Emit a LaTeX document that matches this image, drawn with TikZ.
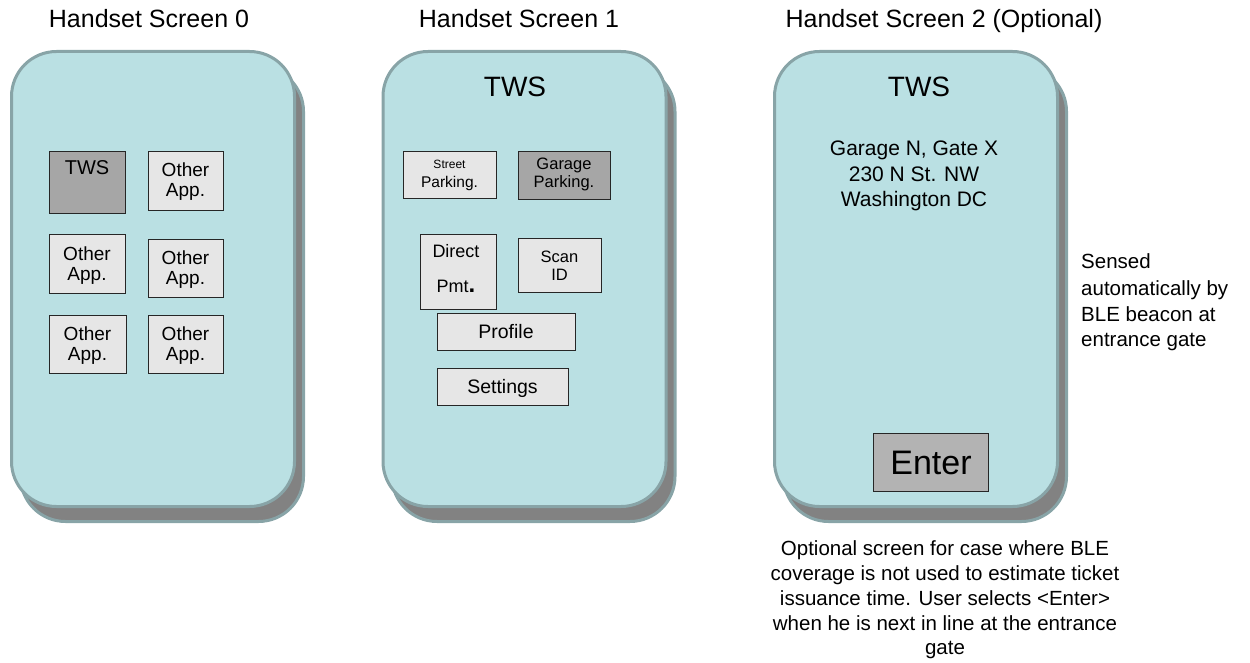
\documentclass[tikz,border=0pt]{standalone}
\usepackage{fontspec}
\setmainfont{Liberation Sans}
\definecolor{facefill}{HTML}{BAE0E3}
\definecolor{faceline}{HTML}{88A4A7}
\definecolor{shadowfill}{HTML}{828282}
\definecolor{btnfill}{HTML}{E6E6E6}
\definecolor{selfill}{HTML}{A6A6A6}
\definecolor{enterfill}{HTML}{B3B3B3}
\newcommand{\fs}[1]{\fontsize{#1}{#1}\selectfont}
\tikzset{
  shadowbox/.style={draw=faceline, line width=3pt, fill=shadowfill, rounded corners=45pt,
    minimum width=283pt, minimum height=455pt, inner sep=0pt},
  facebox/.style={draw=faceline, line width=3pt, fill=facefill, rounded corners=45pt,
    minimum width=283pt, minimum height=455pt, inner sep=0pt},
  btn/.style={draw=black!85, line width=0.9pt, fill=btnfill, inner sep=0pt},
  selbtn/.style={btn, fill=selfill},
  txt/.style={anchor=base, inner sep=0pt},
  title/.style={txt, font=\fs{25}},
}
\begin{document}
\begin{tikzpicture}[x=1pt, y=-1pt]
\useasboundingbox (0,0) rectangle (1250,663);

% ---- screen outlines with drop shadows
\foreach \n/\cx in {0/153, 1/524.5, 2/916} {
  \node[shadowbox] (sh\n) at (\cx+9, 294) {};
  \node[facebox] (scr\n) at (\cx, 279) {};
}

% ---- titles
\node[title] (t0) at (149, 28) {Handset Screen 0};
\node[title] (t1) at (519, 28) {Handset Screen 1};
\node[title] (t2) at (944, 28) {Handset Screen 2 (Optional)};

% ---- screen 0: app grid
\node[selbtn, minimum width=76pt, minimum height=62pt] (tws0) at (87, 182) {};
\node[txt, font=\fs{20}] (tws0l) at (87, 175) {TWS};
\foreach \nm/\cx/\cy/\w/\h in {a/185.5/180.5/75/59, b/87/263.5/76/59, c/185.5/268/75/58, d/87.5/344/77/58, e/185.5/344/75/58} {
  \node[btn, minimum width=\w pt, minimum height=\h pt] (app\nm) at (\cx, \cy) {};
  \node[txt, font=\fs{19}] (app\nm l1) at (\cx, \cy-3.5) {Other};
  \node[txt, font=\fs{19}] (app\nm l2) at (\cx, \cy+16.5) {App.};
}

% ---- screen 1: TWS menu
\node[txt, font=\fs{28}] (tws1) at (515, 97) {TWS};
\node[btn, minimum width=93pt, minimum height=47pt] (street) at (449.5, 174.5) {};
\node[txt, font=\fs{12}] (streetl1) at (449.5, 169) {Street};
\node[txt, font=\fs{15.5}] (streetl2) at (449.5, 188) {Parking.};
\node[selbtn, minimum width=92pt, minimum height=48pt] (garage) at (564, 175) {};
\node[txt, font=\fs{16.5}] (garagel1) at (564, 170) {Garage};
\node[txt, font=\fs{16.5}] (garagel2) at (564, 188) {Parking.};
\node[btn, minimum width=76pt, minimum height=75pt] (direct) at (458, 271.5) {};
\node[txt, font=\fs{18}] (directl1) at (456, 258) {Direct};
\node[txt, font=\fs{18}] (directl2) at (456, 292) {Pmt{\fs{24}\bfseries.}};
\node[btn, minimum width=83pt, minimum height=54pt] (scan) at (559.5, 265) {};
\node[txt, font=\fs{16.5}] (scanl1) at (559.5, 262) {Scan};
\node[txt, font=\fs{16.5}] (scanl2) at (559.5, 280) {ID};
\node[btn, minimum width=138pt, minimum height=37pt] (profile) at (506, 331.5) {};
\node[txt, font=\fs{19.5}] (profilel) at (506, 338) {Profile};
\node[btn, minimum width=131pt, minimum height=37pt] (settings) at (502.5, 386.5) {};
\node[txt, font=\fs{19.5}] (settingsl) at (502.5, 393) {Settings};

% ---- screen 2: garage entry
\node[txt, font=\fs{28}] (tws2) at (919, 97) {TWS};
\node[txt, font=\fs{21}] (addr1) at (914, 156) {Garage N, Gate X};
\node[txt, font=\fs{21}] (addr2) at (914, 182) {230 N St. NW};
\node[txt, font=\fs{21}] (addr3) at (914, 207) {Washington DC};
\node[selbtn, fill=enterfill, minimum width=115pt, minimum height=58pt] (enter) at (930.5, 462) {};
\node[txt, font=\fs{34}] (enterl) at (931, 474) {Enter};

% ---- notes
\node[txt, anchor=base west, font=\fs{20.5}] (note1) at (1081, 269) {Sensed};
\node[txt, anchor=base west, font=\fs{20.5}] (note2) at (1081, 295) {automatically by};
\node[txt, anchor=base west, font=\fs{20.5}] (note3) at (1081, 321) {BLE beacon at};
\node[txt, anchor=base west, font=\fs{20.5}] (note4) at (1081, 346) {entrance gate};

\node[txt, font=\fs{20.5}] (opt1) at (945, 555) {Optional screen for case where BLE};
\node[txt, font=\fs{20.5}] (opt2) at (945, 580) {coverage is not used to estimate ticket};
\node[txt, font=\fs{20.5}] (opt3) at (945, 605) {issuance time. User selects <Enter>};
\node[txt, font=\fs{20.5}] (opt4) at (945, 630) {when he is next in line at the entrance};
\node[txt, font=\fs{20.5}] (opt5) at (945, 654) {gate};
\end{tikzpicture}
\end{document}
